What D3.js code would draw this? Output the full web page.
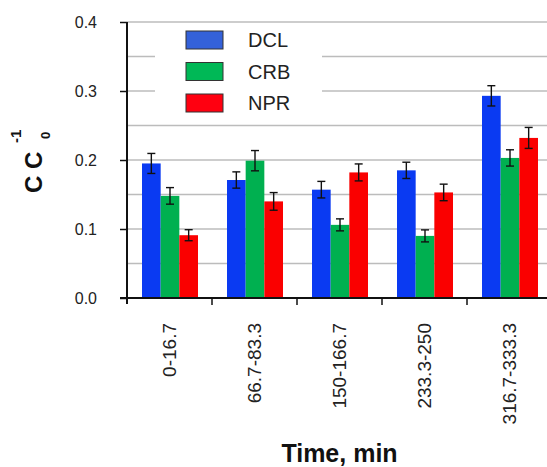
<!DOCTYPE html>
<html>
<head>
<meta charset="utf-8"/>
<script src="https://d3js.org/d3.v7.min.js"></script>
<title>C C0-1 vs time</title>
<style type="text/css">
  body { margin: 0; background: white; }
  svg { display: block; font-family: Arial, "Liberation Sans", sans-serif; }
</style>
</head>
<body>
<div id="chart"></div>
<script type="text/javascript">
// data
var categories = ["0-16.7", "66.7-83.3", "150-166.7", "233.3-250", "316.7-333.3"];
var seriesNames = ["DCL", "CRB", "NPR"];
var dclValues = [0.195, 0.171, 0.157, 0.185, 0.293];
var crbValues = [0.148, 0.199, 0.106, 0.090, 0.203];
var nprValues = [0.091, 0.140, 0.182, 0.153, 0.232];
var dclErr = [0.0145, 0.0118, 0.012, 0.0118, 0.0147];
var crbErr = [0.012, 0.0147, 0.0087, 0.0087, 0.0118];
var nprErr = [0.008, 0.0128, 0.0123, 0.012, 0.0152];
var yTicks = [0.0, 0.1, 0.2, 0.3, 0.4];
var gridValues = [0.05, 0.1, 0.15, 0.2, 0.25, 0.3, 0.35, 0.4];

var barColors = ["#0a3af2", "#00b050", "#fa0000"];
var legendColors = ["#3461d9", "#00b856", "#ff0010"];

var W = 547, H = 467;
var plotLeft = 127, plotRight = 552, plotTop = 22, plotBottom = 298;

var svg = d3.select("#chart").append("svg")
    .attr("width", W)
    .attr("height", H);

var x = d3.scaleBand().domain(categories).range([plotLeft, plotRight]);
var xs = d3.scaleBand().domain(seriesNames).range([15, 71]);
var y = d3.scaleLinear().domain([0, 0.4]).range([plotBottom, plotTop]);

var table = seriesNames.map(function(s, i) {
  var vals = [dclValues, crbValues, nprValues][i];
  var errs = [dclErr, crbErr, nprErr][i];
  return categories.map(function(c, j) {
    return {cat: c, series: s, idx: i, value: vals[j], err: errs[j]};
  });
});

// grid lines
svg.append("g").selectAll("line")
  .data(gridValues).enter().append("line")
    .attr("x1", plotLeft).attr("x2", W)
    .attr("y1", function(d) { return y(d); })
    .attr("y2", function(d) { return y(d); })
    .attr("stroke", "#bcbcbc")
    .attr("stroke-width", 1.6);

// legend (white box hides the grid behind it)
var legend = svg.append("g");
legend.append("rect")
  .attr("x", 155).attr("y", 25).attr("width", 167).attr("height", 95)
  .attr("fill", "white");
var li = legend.selectAll(".li").data(seriesNames).enter().append("g")
  .attr("transform", function(d, i) { return "translate(186," + (31 + i * 31.5) + ")"; });
li.append("rect")
  .attr("width", 37).attr("height", 18)
  .attr("fill", function(d, i) { return legendColors[i]; })
  .attr("stroke", "#333")
  .attr("stroke-width", 1);
li.append("text")
  .attr("x", 62).attr("y", 16)
  .style("font-size", "20px")
  .attr("fill", "#222")
  .text(function(d) { return d; });

// bars
var groups = svg.append("g").selectAll("g")
  .data(table).enter().append("g");
groups.selectAll("rect")
  .data(function(d) { return d; }).enter().append("rect")
    .attr("x", function(d) { return x(d.cat) + xs(d.series); })
    .attr("y", function(d) { return y(d.value); })
    .attr("width", xs.bandwidth())
    .attr("height", function(d) { return y(0) - y(d.value); })
    .attr("fill", function(d) { return barColors[d.idx]; });

// error bars
var eb = groups.selectAll(".eb")
  .data(function(d) { return d; }).enter().append("g")
    .attr("stroke", "#111").attr("stroke-width", 1.4);
function cx(d) { return x(d.cat) + xs(d.series) + xs.bandwidth() / 2; }
eb.append("line")
  .attr("x1", cx).attr("x2", cx)
  .attr("y1", function(d) { return y(d.value - d.err); })
  .attr("y2", function(d) { return y(d.value + d.err); });
eb.append("line")
  .attr("x1", function(d) { return cx(d) - 4; }).attr("x2", function(d) { return cx(d) + 4; })
  .attr("y1", function(d) { return y(d.value + d.err); })
  .attr("y2", function(d) { return y(d.value + d.err); });
eb.append("line")
  .attr("x1", function(d) { return cx(d) - 4; }).attr("x2", function(d) { return cx(d) + 4; })
  .attr("y1", function(d) { return y(d.value - d.err); })
  .attr("y2", function(d) { return y(d.value - d.err); });

// y axis
var yAxis = svg.append("g")
  .attr("transform", "translate(" + plotLeft + ",0)")
  .call(d3.axisLeft(y).tickValues(yTicks).tickFormat(d3.format(".1f")).tickSize(7).tickPadding(23));
yAxis.select(".domain").remove();
yAxis.selectAll(".tick line").attr("stroke", "#111").attr("stroke-width", 1.5);
yAxis.selectAll(".tick text")
  .style("font-size", "16px")
  .style("font-family", "Arial, 'Liberation Sans', sans-serif")
  .attr("fill", "#222");
svg.append("line")
  .attr("x1", plotLeft).attr("x2", plotLeft)
  .attr("y1", y(0.4)).attr("y2", plotBottom + 6)
  .attr("stroke", "#111").attr("stroke-width", 2);

// x axis
svg.append("line")
  .attr("x1", plotLeft - 7).attr("x2", W)
  .attr("y1", plotBottom).attr("y2", plotBottom)
  .attr("stroke", "#111").attr("stroke-width", 2);
svg.append("g").selectAll("line")
  .data(categories.slice(1)).enter().append("line")
    .attr("x1", function(d) { return x(d); })
    .attr("x2", function(d) { return x(d); })
    .attr("y1", plotBottom).attr("y2", plotBottom + 7)
    .attr("stroke", "#111").attr("stroke-width", 1.5);
svg.append("g").selectAll("text")
  .data(categories).enter().append("text")
    .attr("transform", function(d) {
      return "translate(" + (x(d) + x.bandwidth() / 2) + "," + (plotBottom + 25) + ") rotate(-90)";
    })
    .attr("text-anchor", "end")
    .attr("dy", "0.35em")
    .style("font-size", "19px")
    .attr("fill", "#222")
    .text(function(d) { return d; });

// axis titles
svg.append("text")
  .attr("x", (plotLeft + plotRight) / 2).attr("y", 462)
  .attr("text-anchor", "middle")
  .style("font-size", "25px").style("font-weight", "bold")
  .attr("fill", "#111")
  .text("Time, min");

var yt = svg.append("g")
  .attr("transform", "translate(42,193) rotate(-90)")
  .attr("fill", "#111")
  .style("font-weight", "bold");
yt.append("text").attr("x", 0).attr("y", 0)
  .style("font-size", "24px").text("C C");
yt.append("text").attr("x", 54).attr("y", 8)
  .style("font-size", "13px").text("0");
yt.append("text").attr("x", 50).attr("y", -21)
  .style("font-size", "15px").text("-1");
</script>
</body>
</html>
